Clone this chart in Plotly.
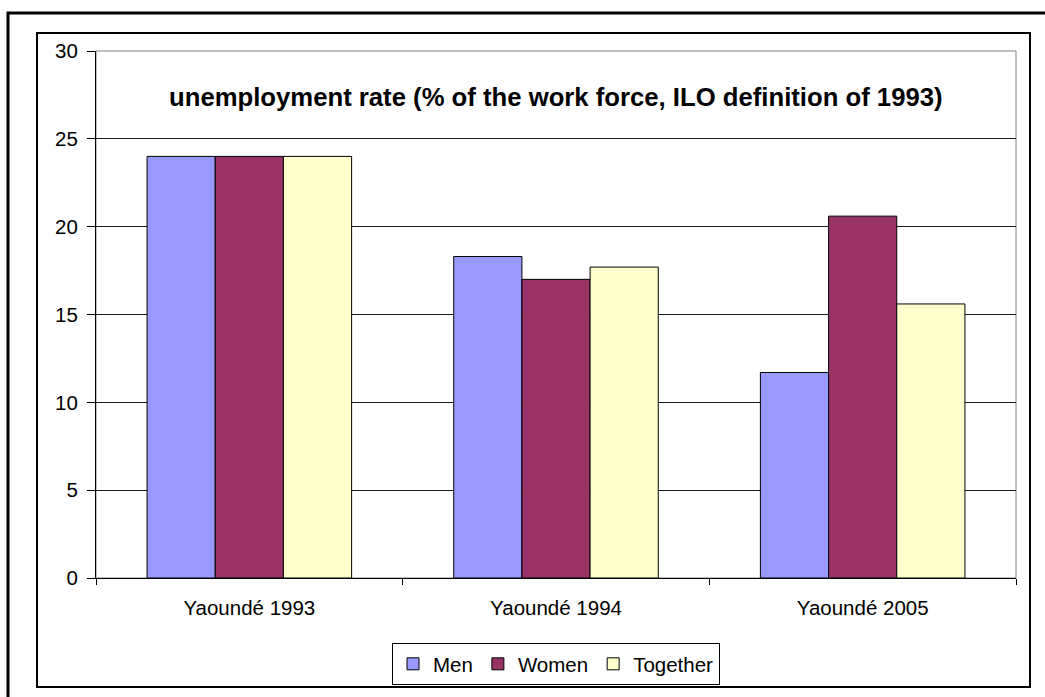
import plotly.graph_objects as go

categories = ["Yaoundé 1993", "Yaoundé 1994", "Yaoundé 2005"]
men = [24.0, 18.3, 11.7]
women = [24.0, 17.0, 20.6]
together = [24.0, 17.7, 15.6]
series_names = ["Men", "Women", "Together"]
series_colors = ["#9999FF", "#993366", "#FFFFCC"]
y_ticks = [0, 5, 10, 15, 20, 25, 30]
title_text = "unemployment rate (% of the work force, ILO definition of 1993)"

FONT = "Arial, Liberation Sans, sans-serif"

fig = go.Figure()
for name, vals, col in zip(series_names, [men, women, together], series_colors):
    fig.add_trace(go.Bar(
        x=categories, y=vals, name=name,
        marker=dict(color=col, line=dict(color="black", width=1)),
    ))

W, H = 1045, 697
L, R, T, B = 96, 1016, 51, 578  # plot area in pixels
pw, ph = R - L, B - T

def px(x):
    return (x - L) / pw

def py(y):
    return (B - y) / ph

shapes = [
    # outer frame (right and bottom edges lie outside the picture)
    dict(type="rect", xref="paper", yref="paper",
         x0=px(8), x1=px(1080), y0=py(730), y1=py(13),
         line=dict(color="black", width=3), layer="below"),
    # inner chart frame
    dict(type="rect", xref="paper", yref="paper",
         x0=px(37), x1=px(1030), y0=py(687), y1=py(33),
         line=dict(color="black", width=2), layer="below"),
    # plot area border (gray)
    dict(type="rect", xref="paper", yref="paper",
         x0=0, x1=1, y0=0, y1=1,
         line=dict(color="#808080", width=1), layer="below"),
]

fig.update_layout(
    width=W, height=H,
    margin=dict(l=L, r=W - R, t=T, b=H - B, pad=0, autoexpand=False),
    paper_bgcolor="white", plot_bgcolor="white",
    barmode="group", bargap=0.333, bargroupgap=0,
    font=dict(family=FONT, size=20, color="black"),
    showlegend=True,
    legend=dict(orientation="h", x=0.5, xanchor="center",
                y=py(643), yanchor="top",
                bordercolor="black", borderwidth=1,
                font=dict(size=20.5, family=FONT, color="black"),
                itemwidth=30, traceorder="normal"),
    shapes=shapes,
    annotations=[dict(text="<b>" + title_text + "</b>", xref="paper", yref="paper",
                      x=0.5, y=py(97), xanchor="center", yanchor="middle",
                      showarrow=False, font=dict(size=25.7, family=FONT, color="black"))],
    xaxis=dict(showline=True, linecolor="black", linewidth=1,
               ticks="outside", ticklen=6, tickcolor="black", tickson="boundaries",
               tickfont=dict(size=20.5, family=FONT), ticklabelstandoff=11,
               showgrid=False, zeroline=False),
    yaxis=dict(range=[0, 30], tickvals=y_ticks, showline=True, linecolor="black", linewidth=1,
               ticks="outside", ticklen=8, tickcolor="black",
               tickfont=dict(size=20.5, family=FONT), ticklabelstandoff=5,
               showgrid=True, gridcolor="#1a1a1a", gridwidth=1, zeroline=False),
)

fig.write_html(
    "out.html",
    config={"displayModeBar": False},
    post_script="document.documentElement.style.margin='0';"
                "document.body.style.margin='0';"
                "document.documentElement.style.overflow='hidden';"
                "document.body.style.overflow='hidden';",
)
